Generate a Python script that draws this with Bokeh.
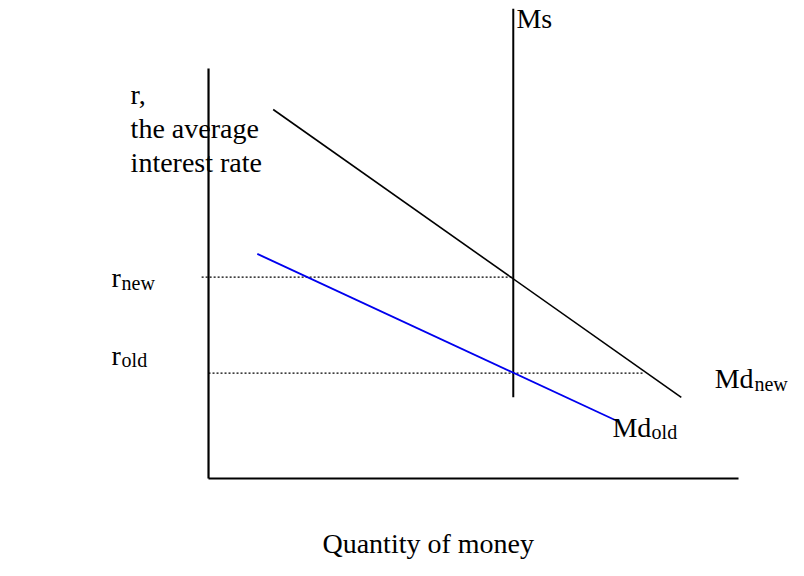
from bokeh.plotting import figure
from bokeh.models import Range1d
from bokeh.core.properties import value
from bokeh.embed import file_html
from bokeh.resources import INLINE

# --- data (economic units: quantity of money q, interest rate r) ---
axis_q0 = [0, 0]
axis_r0 = [0, 0]
axis_q1 = [0, 100]
axis_r1 = [100, 0]

md_new_q = [12.2, 89.2]
md_new_r = [90.0, 19.8]

md_old_q = [9.2, 77.0]
md_old_r = [54.8, 14.1]

ms_q = [57.5, 57.5]
ms_r = [114.6, 19.8]

level_names = ["r_new", "r_old"]
level_r = [49.1, 25.7]
level_q0 = [-1.3, 0.0]
level_q1 = [57.5, 82.1]

main_texts = ["Ms", "r,", "the average", "interest rate", "r", "r", "Md", "Md", "Quantity of money"]
main_q = [58.1, -14.7, -14.7, -14.7, -18.3, -18.3, 95.5, 76.2, 21.5]
main_r = [112.2, 93.7, 85.4, 77.1, 49.0, 30.0, 24.4, 12.4, -15.9]

sub_texts = ["new", "old", "new", "old"]
sub_q = [-16.4, -16.4, 103.0, 83.6]
sub_r = [47.8, 29.0, 23.1, 11.4]

FONT = "Liberation Serif"

p = figure(width=788, height=560, output_backend="svg", toolbar_location=None,
           x_axis_type=None, y_axis_type=None,
           x_range=Range1d(-39.25, 109.43), y_range=Range1d(-20.0, 116.59),
           min_border=0, min_border_left=0, min_border_right=0,
           min_border_top=0, min_border_bottom=0)
p.outline_line_color = None
p.grid.visible = False
p.background_fill_color = "white"
p.border_fill_color = "white"

# axes
p.segment(x0=axis_q0, y0=axis_r0, x1=axis_q1, y1=axis_r1,
          line_color="black", line_width=2.2)

# dotted levels
p.segment(x0=level_q0, y0=level_r, x1=level_q1, y1=level_r,
          line_color="black", line_width=1.2, line_dash="2 2")

# money supply
p.line(x=ms_q, y=ms_r, line_color="black", line_width=2)

# money demand
p.line(x=md_new_q, y=md_new_r, line_color="black", line_width=1.6)
p.line(x=md_old_q, y=md_old_r, line_color="#0000ee", line_width=1.8)

p.text(x=main_q, y=main_r, text=main_texts, text_font=value(FONT),
       text_font_size="28px", text_color="black",
       text_align="left", text_baseline="alphabetic")
p.text(x=sub_q, y=sub_r, text=sub_texts, text_font=value(FONT),
       text_font_size="20px", text_color="black",
       text_align="left", text_baseline="alphabetic")

open("out.html", "w").write(file_html(p, INLINE))
